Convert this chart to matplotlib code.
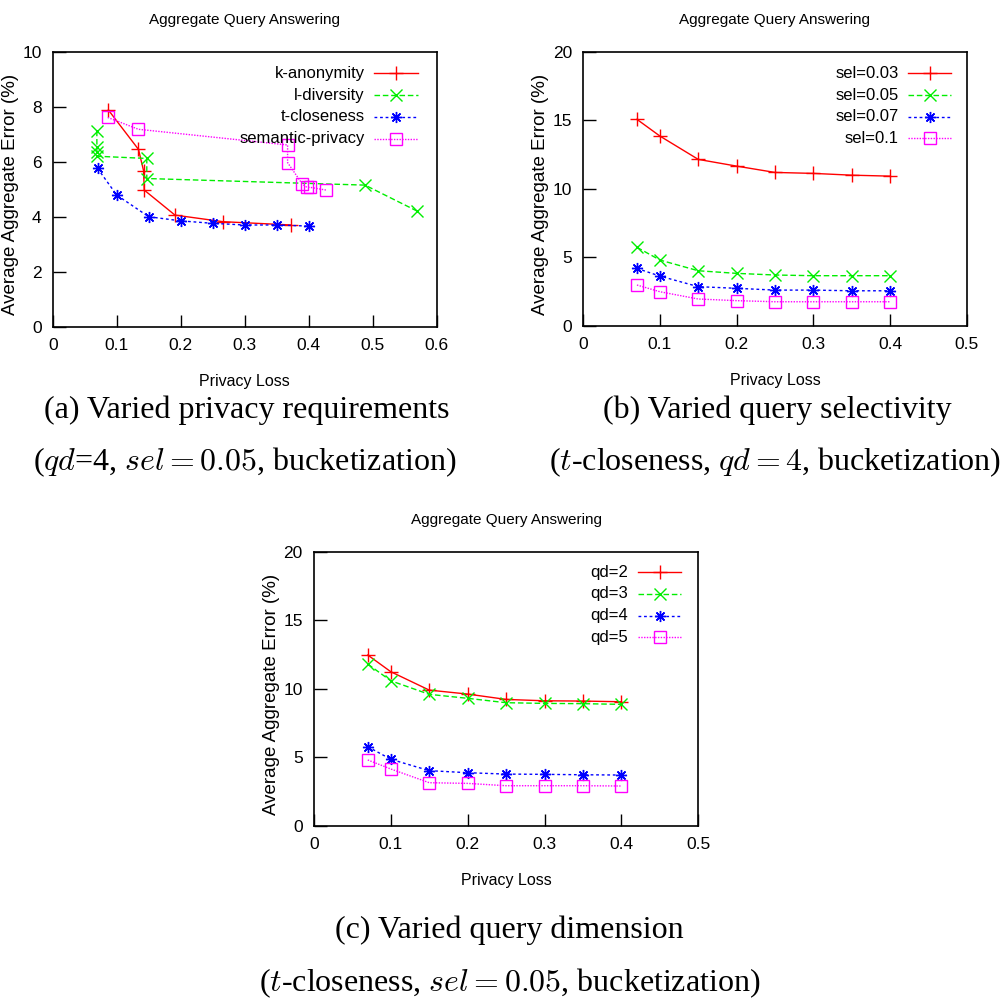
import matplotlib
matplotlib.use('Agg')
import matplotlib.pyplot as plt
from matplotlib.lines import Line2D

# ---- data ----
# (a) varied privacy requirements
k_anon_x = [0.087, 0.134, 0.142, 0.143, 0.191, 0.266, 0.372]
k_anon_y = [7.88, 6.45, 5.67, 4.97, 4.06, 3.82, 3.70]
l_div_x = [0.069, 0.069, 0.069, 0.069, 0.147, 0.147, 0.488, 0.569]
l_div_y = [7.13, 6.55, 6.35, 6.20, 6.12, 5.39, 5.15, 4.21]
t_close_x = [0.07, 0.1, 0.15, 0.2, 0.25, 0.3, 0.35, 0.4]
t_close_y = [5.76, 4.79, 4.00, 3.85, 3.76, 3.70, 3.70, 3.66]
sem_x = [0.086, 0.134, 0.367, 0.367, 0.390, 0.397, 0.402, 0.427]
sem_y = [7.61, 7.18, 6.61, 5.97, 5.19, 5.07, 5.07, 4.97]

# (b) and (c) share the same privacy-loss grid
loss = [0.07, 0.1, 0.15, 0.2, 0.25, 0.3, 0.35, 0.4]
sel_003 = [15.07, 13.85, 12.15, 11.66, 11.20, 11.13, 11.00, 10.93]
sel_005 = [5.74, 4.81, 4.03, 3.84, 3.72, 3.67, 3.67, 3.67]
sel_007 = [4.20, 3.64, 2.87, 2.75, 2.62, 2.62, 2.57, 2.57]
sel_010 = [2.99, 2.50, 1.97, 1.85, 1.77, 1.77, 1.77, 1.77]

qd_2 = [12.46, 11.24, 9.90, 9.61, 9.22, 9.12, 9.10, 9.05]
qd_3 = [11.80, 10.58, 9.59, 9.30, 8.98, 8.93, 8.91, 8.86]
qd_4 = [5.77, 4.85, 4.02, 3.87, 3.77, 3.75, 3.72, 3.70]
qd_5 = [4.80, 4.14, 3.14, 3.09, 2.92, 2.92, 2.92, 2.90]

labels_a = ['k-anonymity', 'l-diversity', 't-closeness', 'semantic-privacy']
labels_b = ['sel=0.03', 'sel=0.05', 'sel=0.07', 'sel=0.1']
labels_c = ['qd=2', 'qd=3', 'qd=4', 'qd=5']

# gnuplot-like styles for the four series
styles = [
    dict(color='#ff0000', marker='+', dashes=(None, None), ms=10),
    dict(color='#00ee00', marker='x', dashes=(4, 2), ms=8),
    dict(color='#0000ff', marker=(8, 2, 0), dashes=(2, 2), ms=8),
    dict(color='#ff00ff', marker='s', dashes=(1, 1), ms=8),
]

sans = ['Liberation Sans', 'DejaVu Sans']
serif = ['Liberation Serif', 'DejaVu Serif']
plt.rcParams['font.family'] = sans
plt.rcParams['mathtext.fontset'] = 'cm'


def draw_line(ax, x, y, st):
    ln, = ax.plot(x, y, color=st['color'], marker=st['marker'], ms=st['ms'],
                  mfc='none', mew=1.0, lw=1.0)
    if st['dashes'][0] is not None:
        ln.set_dashes(st['dashes'])
    return ln


def key(ax, labels, tx, ty):
    # gnuplot style key: label right aligned, sample to its right
    for i, (lab, st) in enumerate(zip(labels, styles)):
        yy = ty - i * 0.079
        ax.text(tx, yy, lab, transform=ax.transAxes, ha='right', va='center',
                fontsize=12)
        ln = Line2D([tx + 0.025, tx + 0.138], [yy, yy], transform=ax.transAxes,
                    color=st['color'], lw=1.0)
        if st['dashes'][0] is not None:
            ln.set_dashes(st['dashes'])
        ax.add_line(ln)
        ax.plot([tx + 0.0815], [yy], transform=ax.transAxes, color=st['color'],
                marker=st['marker'], ms=st['ms'], mfc='none', mew=1.0)


def setup(ax, xmax, ymax, xticks, yticks):
    ax.set_xlim(0, xmax)
    ax.set_ylim(0, ymax)
    ax.set_xticks(xticks)
    ax.set_yticks(yticks)
    ax.set_xticklabels([('%g' % t) for t in xticks])
    ax.set_yticklabels([('%g' % t) for t in yticks])
    ax.tick_params(direction='in', length=9, width=1, labelsize=12.5, pad=8,
                   top=False, right=False)
    for sp in ax.spines.values():
        sp.set_linewidth(1.2)
    ax.set_ylabel('Average Aggregate Error (%)', fontsize=13.5)
    ax.yaxis.set_label_coords(-34 / 384, 0.48)
    ax.set_xlabel('Privacy Loss', fontsize=11.5, labelpad=15)


fig = plt.figure(figsize=(10.06, 10.01), dpi=100)
ax_a = fig.add_axes([0.0524, 0.6736, 0.3817, 0.2747])
ax_b = fig.add_axes([0.5798, 0.6743, 0.3811, 0.2740])
ax_c = fig.add_axes([0.3121, 0.1751, 0.3820, 0.2737])

# (a)
for (x, y), st in zip([(k_anon_x, k_anon_y), (l_div_x, l_div_y),
                       (t_close_x, t_close_y), (sem_x, sem_y)], styles):
    draw_line(ax_a, x, y, st)
setup(ax_a, 0.6, 10, [0, 0.1, 0.2, 0.3, 0.4, 0.5, 0.6], [0, 2, 4, 6, 8, 10])
key(ax_a, labels_a, 0.813, 0.921)

# (b)
for y, st in zip([sel_003, sel_005, sel_007, sel_010], styles):
    draw_line(ax_b, loss, y, st)
setup(ax_b, 0.5, 20, [0, 0.1, 0.2, 0.3, 0.4, 0.5], [0, 5, 10, 15, 20])
key(ax_b, labels_b, 0.822, 0.921)

# (c)
for y, st in zip([qd_2, qd_3, qd_4, qd_5], styles):
    draw_line(ax_c, loss, y, st)
setup(ax_c, 0.5, 20, [0, 0.1, 0.2, 0.3, 0.4, 0.5], [0, 5, 10, 15, 20])
key(ax_c, labels_c, 0.818, 0.925)

# plot titles
for ax in (ax_a, ax_b, ax_c):
    ax.set_title('Aggregate Query Answering', fontsize=11, pad=20)

# captions under each plot
cap = dict(family=serif, fontsize=23, ha='center', va='center')
fig.text(0.245, 0.590, '(a) Varied privacy requirements', **cap)
fig.text(0.2435, 0.538, r'($qd$=4, $sel=0.05$, bucketization)', **cap)
fig.text(0.773, 0.590, '(b) Varied query selectivity', **cap)
fig.text(0.770, 0.538, r'($t$-closeness, $qd=4$, bucketization)', **cap)
fig.text(0.506, 0.071, '(c) Varied query dimension', **cap)
fig.text(0.507, 0.018, r'($t$-closeness, $sel=0.05$, bucketization)', **cap)

plt.savefig('out.png', dpi=100)
